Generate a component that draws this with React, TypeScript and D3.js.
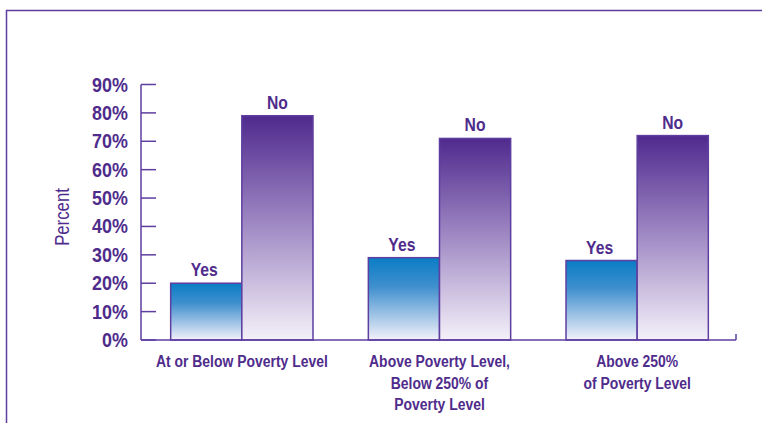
import React from "react";
import * as d3 from "d3";

const categories: string[][] = [
  ["At or Below Poverty Level"],
  ["Above Poverty Level,", "Below 250% of", "Poverty Level"],
  ["Above 250%", "of Poverty Level"],
];
const seriesNames = ["Yes", "No"];
const yesValues = [20, 29, 28];
const noValues = [79, 71, 72];
const yTicks = [0, 10, 20, 30, 40, 50, 60, 70, 80, 90];

const W = 762;
const H = 423;
const FONT = "'Liberation Sans', Arial, sans-serif";
const TEXT = "#4f2c8c";
const LINE = "#5e3ea0";

type CTProps = {
  x: number;
  y: number;
  sx: number;
  size: number;
  anchor?: "start" | "middle" | "end";
  bold?: boolean;
  rotate?: number;
  children: React.ReactNode;
};

function CText({ x, y, sx, size, anchor = "middle", bold = true, rotate = 0, children }: CTProps) {
  return (
    <text
      transform={`translate(${x},${y}) rotate(${rotate}) scale(${sx},1)`}
      textAnchor={anchor}
      fontFamily={FONT}
      fontWeight={bold ? "bold" : "normal"}
      fontSize={size}
      fill={TEXT}
    >
      {children}
    </text>
  );
}

export default function App() {
  const x0 = 141;
  const x1 = 736;
  const y0 = 340;
  const yTop = 84.5;
  const y = d3.scaleLinear().domain([0, 90]).range([y0, yTop]);
  const xg = d3
    .scaleBand<number>()
    .domain(d3.range(categories.length))
    .range([x0 + 2, x1])
    .paddingInner(0.28)
    .paddingOuter(0.14);
  const xs = d3.scaleBand<string>().domain(seriesNames).range([0, xg.bandwidth()]);
  const data = categories.map((c, i) => ({ c, vals: [yesValues[i], noValues[i]] }));

  return (
    <div style={{ position: "absolute", left: 0, top: 0 }}>
      <svg width={W} height={H} style={{ display: "block" }}>
        <defs>
          <linearGradient id="gYes" x1="0" y1="0" x2="0" y2="1">
            <stop offset="0" stopColor="#0a7dc5" />
            <stop offset="0.35" stopColor="#3f8fce" />
            <stop offset="1" stopColor="#f3f1fa" />
          </linearGradient>
          <linearGradient id="gNo" x1="0" y1="0" x2="0" y2="1">
            <stop offset="0" stopColor="#4f2a8e" />
            <stop offset="0.45" stopColor="#9a82c0" />
            <stop offset="1" stopColor="#f4f1f9" />
          </linearGradient>
        </defs>
        {/* frame */}
        <path d={`M6.5,${H} V10.5 H${W}`} fill="none" stroke={LINE} strokeWidth={1.5} />

        {/* bars */}
        {data.map((d, i) => (
          <g key={i} transform={`translate(${xg(i)},0)`}>
            {d.vals.map((v, j) => {
              const name = seriesNames[j];
              const bx = xs(name)!;
              const bw = xs.bandwidth();
              return (
                <g key={name}>
                  <rect
                    x={bx}
                    y={y(v)}
                    width={bw}
                    height={y0 - y(v)}
                    fill={j === 0 ? "url(#gYes)" : "url(#gNo)"}
                    stroke={LINE}
                    strokeWidth={1.5}
                  />
                  <CText x={bx + bw / 2 - (j === 0 ? 2 : 0)} y={y(v) - 7} sx={0.85} size={18.5}>
                    {name}
                  </CText>
                </g>
              );
            })}
            {d.c.map((line, k) => (
              <CText key={k} x={xg.bandwidth() / 2} y={367 + k * 21.5} sx={0.82} size={17}>
                {line}
              </CText>
            ))}
          </g>
        ))}

        {/* y axis */}
        <line x1={x0} x2={x0} y1={yTop} y2={y0} stroke={LINE} strokeWidth={1.5} />
        {yTicks.map((t) => (
          <g key={t}>
            <line x1={x0} x2={x0 + 15} y1={y(t)} y2={y(t)} stroke={LINE} strokeWidth={1.5} />
            <CText x={128} y={y(t) + 7} sx={0.92} size={19.5} anchor="end">
              {t}%
            </CText>
          </g>
        ))}
        {/* x axis */}
        <line x1={x0} x2={x1} y1={y0} y2={y0} stroke={LINE} strokeWidth={1.5} />
        <line x1={x1} x2={x1} y1={y0} y2={y0 - 6} stroke={LINE} strokeWidth={1.5} />

        <CText x={69} y={217} sx={0.86} size={19.5} bold={false} rotate={-90}>
          Percent
        </CText>
      </svg>
    </div>
  );
}
